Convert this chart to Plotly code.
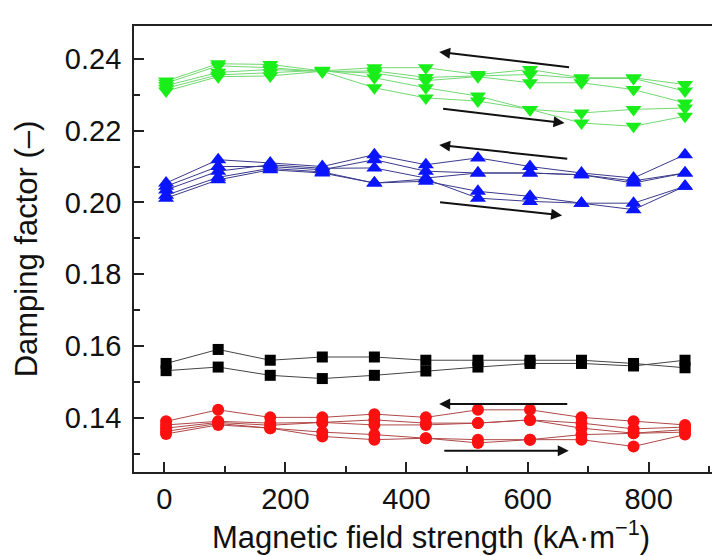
import plotly.graph_objects as go

# ---------------- data ----------------
field = [3, 89, 175, 261, 347, 432, 518, 604, 689, 775, 860]

green_1 = [0.2338, 0.2386, 0.2384, 0.2366, 0.2375, 0.2375, 0.2356, 0.2370, 0.2347, 0.2347, 0.2328]
green_2 = [0.2332, 0.2380, 0.2375, 0.2364, 0.2366, 0.2348, 0.2352, 0.2356, 0.2345, 0.2345, 0.2310]
green_3 = [0.2325, 0.2362, 0.2370, 0.2366, 0.2360, 0.2339, 0.2350, 0.2333, 0.2333, 0.2314, 0.2277]
green_4 = [0.2318, 0.2355, 0.2361, 0.2368, 0.2347, 0.2319, 0.2296, 0.2259, 0.2249, 0.2259, 0.2263]
green_5 = [0.2310, 0.2350, 0.2352, 0.2365, 0.2319, 0.2291, 0.2282, 0.2259, 0.2221, 0.2212, 0.2240]

blue_1 = [0.2054, 0.2119, 0.2110, 0.2100, 0.2133, 0.2105, 0.2124, 0.2100, 0.2082, 0.2068, 0.2133]
blue_2 = [0.2045, 0.2100, 0.2100, 0.2091, 0.2119, 0.2087, 0.2082, 0.2082, 0.2077, 0.2054, 0.2082]
blue_3 = [0.2035, 0.2087, 0.2105, 0.2095, 0.2096, 0.2068, 0.2082, 0.2082, 0.2077, 0.2060, 0.2082]
blue_4 = [0.2020, 0.2070, 0.2095, 0.2085, 0.2054, 0.2059, 0.2031, 0.2017, 0.1998, 0.1998, 0.2045]
blue_5 = [0.2012, 0.2063, 0.2091, 0.2082, 0.2054, 0.2065, 0.2012, 0.2003, 0.1998, 0.1980, 0.2045]

black_1 = [0.1552, 0.1591, 0.1561, 0.1570, 0.1570, 0.1561, 0.1561, 0.1561, 0.1561, 0.1552, 0.1540]
black_2 = [0.1532, 0.1542, 0.1519, 0.1510, 0.1519, 0.1531, 0.1542, 0.1552, 0.1552, 0.1545, 0.1561]

red_1 = [0.1391, 0.1423, 0.1402, 0.1402, 0.1411, 0.1402, 0.1423, 0.1423, 0.1402, 0.1391, 0.1381]
red_2 = [0.1381, 0.1391, 0.1386, 0.1388, 0.1395, 0.1386, 0.1386, 0.1395, 0.1386, 0.1370, 0.1375]
red_3 = [0.1372, 0.1388, 0.1380, 0.1388, 0.1381, 0.1381, 0.1386, 0.1395, 0.1372, 0.1358, 0.1368]
red_4 = [0.1363, 0.1385, 0.1372, 0.1361, 0.1354, 0.1344, 0.1340, 0.1340, 0.1354, 0.1358, 0.1361]
red_5 = [0.1356, 0.1381, 0.1372, 0.1349, 0.1340, 0.1344, 0.1331, 0.1340, 0.1340, 0.1321, 0.1354]

# arrows: (x_tail, y_tail, x_head, y_head) in data units
arrow_x_tail = [671, 458, 668, 453, 668, 460]
arrow_y_tail = [0.2376, 0.2261, 0.2121, 0.2001, 0.1439, 0.1309]
arrow_x_head = [454, 661, 454, 657, 454, 668]
arrow_y_head = [0.2419, 0.2221, 0.2160, 0.1964, 0.1439, 0.1309]

x_tickvals = [0, 200, 400, 600, 800]
y_tickvals = [0.14, 0.16, 0.18, 0.20, 0.22, 0.24]

FONT = "Liberation Sans, Arial, sans-serif"

fig = go.Figure()

groups = [
    ([green_1, green_2, green_3, green_4, green_5], "#72d872", "#1aee1a", "triangle-down", 14),
    ([blue_1, blue_2, blue_3, blue_4, blue_5], "#3a3a8c", "#0a14ff", "triangle-up", 14),
    ([black_1, black_2], "#444444", "#000000", "square", 11),
    ([red_1, red_2, red_3, red_4, red_5], "#b04848", "#ff1010", "circle", 12),
]
for series, lcol, mcol, sym, msz in groups:
    for ys in series:
        fig.add_trace(go.Scatter(
            x=field, y=ys, mode="lines+markers",
            line=dict(color=lcol, width=1),
            marker=dict(symbol=sym, size=msz, color=mcol, line=dict(width=0)),
            showlegend=False,
        ))

for xt, yt, xh, yh in zip(arrow_x_tail, arrow_y_tail, arrow_x_head, arrow_y_head):
    fig.add_annotation(
        x=xh, y=yh, ax=xt, ay=yt, xref="x", yref="y", axref="x", ayref="y",
        text="", showarrow=True, arrowhead=2, arrowsize=1.1, arrowwidth=2,
        arrowcolor="#111111",
    )

fig.update_layout(
    width=720, height=556,
    margin=dict(l=126, r=0, t=18, b=92),
    paper_bgcolor="white", plot_bgcolor="white",
    font=dict(family=FONT, size=29, color="#111111"),
    showlegend=False,
)
fig.update_xaxes(
    range=[-50, 931],
    tickvals=x_tickvals, ticktext=[str(v) for v in x_tickvals],
    ticks="inside", ticklen=10, tickwidth=1.5, tickcolor="#222",
    minor=dict(dtick=100, tick0=0, ticks="inside", ticklen=6, tickwidth=1.5, tickcolor="#222"),
    showline=True, linewidth=1.8, linecolor="#222", mirror=True,
    showgrid=False, zeroline=False,
    tickfont=dict(size=29, family=FONT),
    title=dict(text="Magnetic field strength (kA·m<sup>−1</sup>)", font=dict(size=31, family=FONT), standoff=10),
)
fig.update_yaxes(
    range=[0.125, 0.2491],
    tickvals=y_tickvals, ticktext=["%.2f" % v for v in y_tickvals],
    ticks="inside", ticklen=10, tickwidth=1.5, tickcolor="#222",
    minor=dict(dtick=0.01, tick0=0.13, ticks="inside", ticklen=6, tickwidth=1.5, tickcolor="#222"),
    showline=True, linewidth=1.8, linecolor="#222", mirror=False,
    showgrid=False, zeroline=False,
    ticklabelstandoff=5,
    tickfont=dict(size=29, family=FONT),
    title=dict(text="Damping factor (–)", font=dict(size=31, family=FONT), standoff=18),
)

fig.write_html("out.html")
